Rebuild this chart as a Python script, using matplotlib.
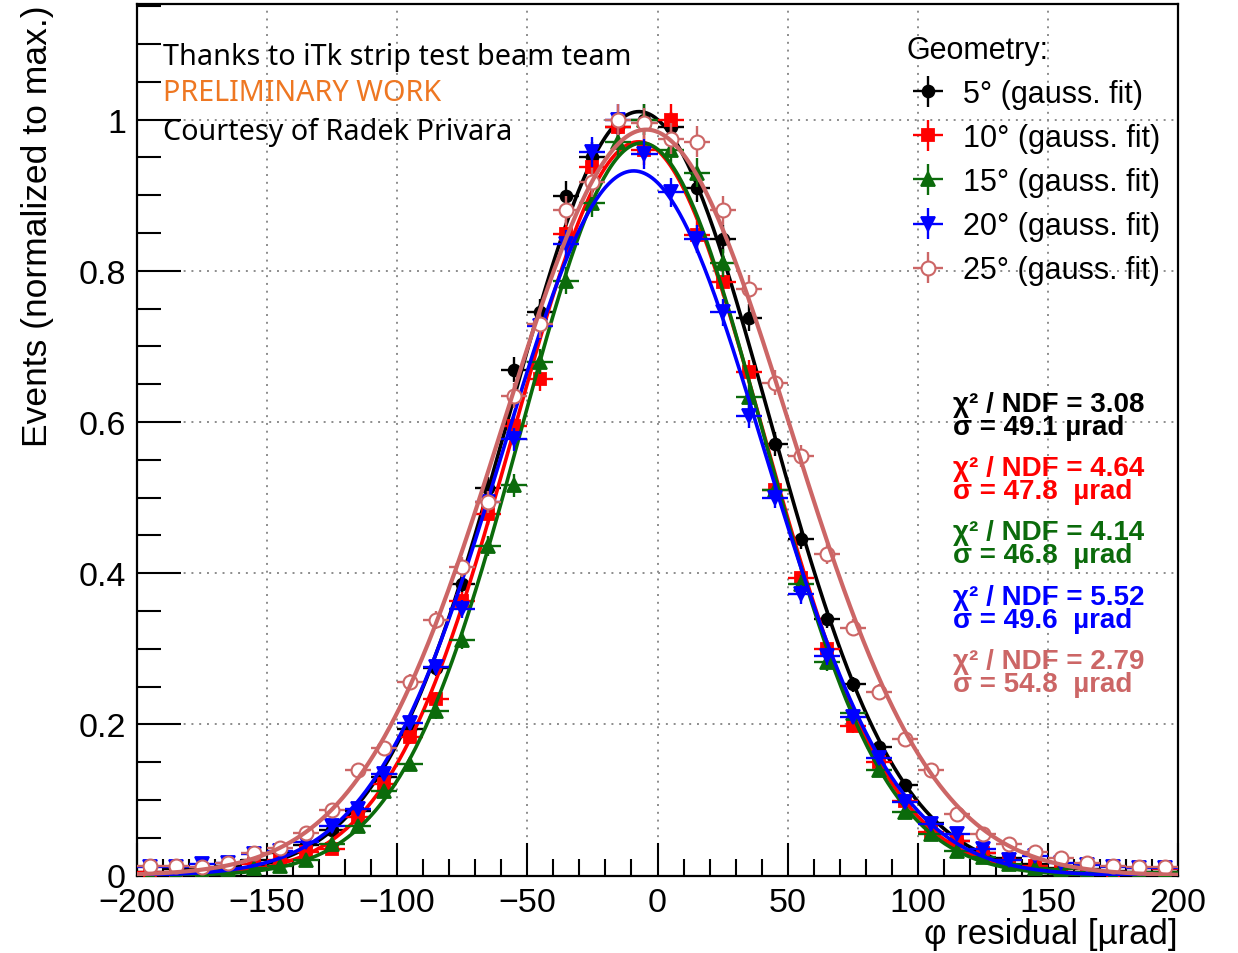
import numpy as np
import matplotlib
matplotlib.use("Agg")
import matplotlib.pyplot as plt

# ---------------- data ----------------
bin_centers = [-195, -185, -175, -165, -155, -145, -135, -125, -115, -105,
               -95, -85, -75, -65, -55, -45, -35, -25, -15, -5,
               5, 15, 25, 35, 45, 55, 65, 75, 85, 95,
               105, 115, 125, 135, 145, 155, 165, 175, 185, 195]

y_5deg = [0.005, 0.008, 0.010, 0.012, 0.020, 0.030, 0.040, 0.060, 0.085, 0.130,
          0.194, 0.275, 0.386, 0.513, 0.669, 0.745, 0.899, 0.950, 0.990, 1.000,
          0.990, 0.910, 0.842, 0.738, 0.571, 0.445, 0.340, 0.253, 0.170, 0.120,
          0.070, 0.045, 0.030, 0.023, 0.015, 0.010, 0.008, 0.006, 0.005, 0.005]

y_10deg = [0.005, 0.004, 0.002, 0.008, 0.015, 0.020, 0.031, 0.035, 0.077, 0.121,
           0.183, 0.233, 0.363, 0.478, 0.595, 0.657, 0.849, 0.937, 0.990, 0.960,
           1.000, 0.847, 0.785, 0.666, 0.510, 0.394, 0.300, 0.198, 0.150, 0.099,
           0.057, 0.046, 0.030, 0.020, 0.012, 0.008, 0.005, 0.005, 0.010, 0.008]

y_15deg = [0.000, 0.003, 0.005, 0.008, 0.010, 0.013, 0.020, 0.042, 0.066, 0.112,
           0.148, 0.217, 0.311, 0.436, 0.516, 0.680, 0.787, 0.890, 0.970, 1.000,
           0.960, 0.930, 0.810, 0.633, 0.510, 0.385, 0.282, 0.215, 0.139, 0.084,
           0.055, 0.033, 0.025, 0.015, 0.010, 0.008, 0.005, 0.000, 0.005, 0.005]

y_20deg = [0.011, 0.011, 0.015, 0.017, 0.028, 0.033, 0.044, 0.066, 0.088, 0.134,
           0.202, 0.276, 0.353, 0.494, 0.577, 0.727, 0.835, 0.957, 1.000, 0.954,
           0.904, 0.842, 0.745, 0.608, 0.500, 0.372, 0.290, 0.210, 0.155, 0.097,
           0.068, 0.055, 0.035, 0.020, 0.026, 0.017, 0.014, 0.011, 0.010, 0.010]

y_25deg = [0.013, 0.012, 0.011, 0.016, 0.030, 0.037, 0.056, 0.086, 0.139, 0.169,
           0.256, 0.338, 0.408, 0.494, 0.635, 0.729, 0.880, 0.917, 1.000, 0.995,
           0.975, 0.971, 0.880, 0.776, 0.652, 0.555, 0.425, 0.328, 0.243, 0.181,
           0.139, 0.081, 0.055, 0.042, 0.031, 0.023, 0.017, 0.012, 0.011, 0.011]

series_labels = ["5° (gauss. fit)", "10° (gauss. fit)", "15° (gauss. fit)",
                 "20° (gauss. fit)", "25° (gauss. fit)"]
chi2_ndf = ["3.08", "4.64", "4.14", "5.52", "2.79"]
sigma_text = ["49.1 µrad", "47.8  µrad", "46.8  µrad", "49.6  µrad", "54.8  µrad"]

events_at_max = 2400.0   # statistics used for the Poisson error bars
bin_half_width = 5.0

x_ticks = [-200, -150, -100, -50, 0, 50, 100, 150, 200]
y_ticks = [0, 0.2, 0.4, 0.6, 0.8, 1.0]
y_ticklabels = ["0", "0.2", "0.4", "0.6", "0.8", "1"]

# ---------------- style ----------------
colors = ["#000000", "#ff0000", "#0b6b0b", "#0000ff", "#cc6666"]
markers = ["o", "s", "^", "v", "o"]
msizes = [8.5, 8.0, 9.5, 9.5, 10.0]
filled = [True, True, True, True, False]

SANS = ["Liberation Sans", "DejaVu Sans"]
plt.rcParams["font.family"] = SANS


def gauss_fit(x, y, err):
    x = np.asarray(x, float)
    y = np.asarray(y, float)
    mu = np.sum(x * y) / np.sum(y)
    s = np.sqrt(np.sum(y * (x - mu) ** 2) / np.sum(y))
    p = np.array([y.max(), mu, s])
    w = 1.0 / err ** 2
    for _ in range(200):
        A, mu, s = p
        e = np.exp(-(x - mu) ** 2 / (2 * s * s))
        f = A * e
        J = np.stack([e, A * e * (x - mu) / s ** 2, A * e * (x - mu) ** 2 / s ** 3], axis=1)
        r = y - f
        JTW = J.T * w
        dp = np.linalg.solve(JTW @ J, JTW @ r)
        p = p + dp
        if np.max(np.abs(dp)) < 1e-10:
            break
    return p


fig = plt.figure(figsize=(12.38, 9.54), dpi=100)
ax = fig.add_axes([137 / 1238, 77.5 / 954, 1041 / 1238, 871.5 / 954])

xs = np.asarray(bin_centers, float)
xfine = np.linspace(-200, 200, 801)
all_y = [y_5deg, y_10deg, y_15deg, y_20deg, y_25deg]

handles = []
for i, yv in enumerate(all_y):
    yv = np.asarray(yv, float)
    yerr = np.sqrt(np.maximum(yv, 1.0 / events_at_max) * events_at_max) / events_at_max
    c = colors[i]
    eb = ax.errorbar(xs, yv, xerr=bin_half_width, yerr=yerr, fmt=markers[i],
                     color=c, ecolor=c, elinewidth=1.7, capsize=0,
                     markersize=msizes[i],
                     markerfacecolor=c if filled[i] else "white",
                     markeredgecolor=c, markeredgewidth=1.3 if filled[i] else 1.5,
                     zorder=3 + i)
    handles.append(eb)
    A, mu, s = gauss_fit(xs, yv, yerr)
    ax.plot(xfine, A * np.exp(-(xfine - mu) ** 2 / (2 * s * s)), color=c,
            lw=2.6 if i < 4 else 3.0, zorder=4 + i, solid_capstyle="round")

ax.set_xlim(-200, 200)
ax.set_ylim(0, 1.153)

ax.set_xticks(x_ticks)
ax.set_xticklabels([("\u2212%d" % -v) if v < 0 else str(v) for v in x_ticks])
ax.set_xticks(np.arange(-200, 201, 10), minor=True)
ax.set_yticks(y_ticks)
ax.set_yticklabels(y_ticklabels)
ax.set_yticks(np.arange(0, 1.151, 0.05), minor=True)

ax.tick_params(axis="both", which="both", direction="in", top=False, right=False,
               labelsize=24.5, width=1.5, colors="black")
ax.tick_params(axis="x", which="major", length=24, pad=8)
ax.tick_params(axis="x", which="minor", length=12)
ax.tick_params(axis="y", which="major", length=32, pad=8)
ax.tick_params(axis="y", which="minor", length=17)

for sp in ax.spines.values():
    sp.set_linewidth(1.6)
    sp.set_color("black")

ax.grid(True, which="major", color="#8c8c8c", linestyle=(0, (1, 3)), linewidth=1.4)
ax.set_axisbelow(True)

# axis titles
ax.text(-0.096, 1.0, "Events (normalized to max.)", rotation=90, ha="right",
        va="center", rotation_mode="anchor", transform=ax.transAxes, fontsize=25.5)
ax.text(1.0, -0.067, "\u03c6 residual [\u00b5rad]", ha="right", va="center",
        transform=ax.transAxes, fontsize=25)

# annotation lines
NOTO = ["Noto Sans", "DejaVu Sans"]
ax.text(0.025, 0.9392, "Thanks to iTk strip test beam team", family=NOTO,
        fontsize=20.7, color="black", va="center", ha="left", transform=ax.transAxes)
ax.text(0.025, 0.8979, "PRELIMINARY WORK", family=NOTO, fontsize=20.7,
        color="#ee7722", va="center", ha="left", transform=ax.transAxes)
ax.text(0.025, 0.8543, "Courtesy of Radek Privara", family=NOTO, fontsize=20.7,
        color="black", va="center", ha="left", transform=ax.transAxes)

# fit results
line1_px = [405, 469, 533, 598, 662]
for i in range(5):
    y1 = (876.5 - line1_px[i]) / 871.5
    y2 = (876.5 - line1_px[i] - 23) / 871.5
    ax.text(0.784, y1, "\u03c7\u00b2 / NDF = " + chi2_ndf[i], color=colors[i],
            fontsize=20, fontweight="bold", va="center", ha="left",
            transform=ax.transAxes, zorder=20)
    ax.text(0.784, y2, "\u03c3 = " + sigma_text[i], color=colors[i],
            fontsize=20, fontweight="bold", va="center", ha="left",
            transform=ax.transAxes, zorder=20)

leg = ax.legend(handles, series_labels, loc="upper left",
                bbox_to_anchor=((906 - 137) / 1041, (876.5 - 36) / 871.5),
                frameon=False, title="Geometry:", alignment="left",
                fontsize=22, title_fontsize=22, handlelength=1.45,
                handletextpad=0.4, labelspacing=0.46, borderaxespad=0,
                borderpad=0)
leg.set_zorder(30)

fig.savefig("out.png", dpi=100)
